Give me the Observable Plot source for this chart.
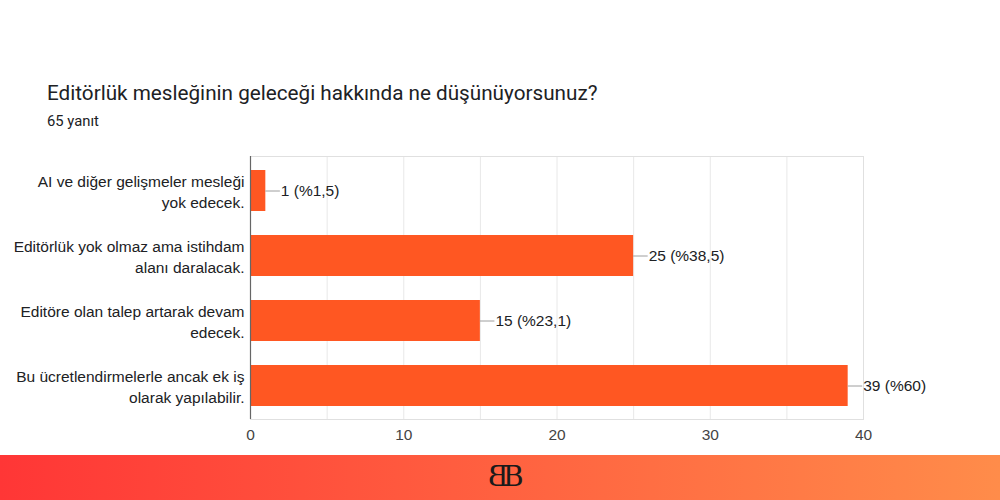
<!DOCTYPE html>
<html>
<head>
<meta charset="utf-8">
<script src="https://cdn.jsdelivr.net/npm/d3@7"></script>
<script src="https://cdn.jsdelivr.net/npm/@observablehq/plot@0.6"></script>
<style>
  html, body { margin: 0; padding: 0; background: #fff; }
  #page { position: relative; width: 1000px; height: 500px; overflow: hidden; background: #fff; }
  #title { position: absolute; left: 47px; top: 81px; font-family: Roboto, "Liberation Sans", sans-serif; font-size: 20.7px; color: #202124; white-space: nowrap; }
  #subtitle { position: absolute; left: 47px; top: 112px; font-family: Roboto, "Liberation Sans", sans-serif; font-size: 14.8px; color: #202124; }
  #chart { position: absolute; left: 0; top: 140px; }
  #footer { position: absolute; left: 0; top: 455px; width: 1000px; height: 45px; background: linear-gradient(to right, #ff3636, #ff8c4a); }
  #logo { position: absolute; left: 503px; top: 6px; font-family: "DejaVu Serif", serif; font-size: 28px; color: #1a1a1a; line-height: 32px; white-space: nowrap; }
  #logo::before { content: "B"; position: absolute; right: 100%; margin-right: -6px; transform: scaleX(-1); }
</style>
</head>
<body>
<div id="page">
  <div id="title">Editörlük mesleğinin geleceği hakkında ne düşünüyorsunuz?</div>
  <div id="subtitle">65 yanıt</div>
  <div id="chart"></div>
  <div id="footer"><div id="logo">B</div></div>
</div>
<script>
const categories = [
  "AI ve diğer gelişmeler mesleği\nyok edecek.",
  "Editörlük yok olmaz ama istihdam\nalanı daralacak.",
  "Editöre olan talep artarak devam\nedecek.",
  "Bu ücretlendirmelerle ancak ek iş\nolarak yapılabilir."
];
const counts = [1, 25, 15, 39];
const percentLabels = ["%1,5", "%38,5", "%23,1", "%60"];
const xTicks = [0, 10, 20, 30, 40];
const gridValues = [0, 5, 10, 15, 20, 25, 30, 35, 40];

const data = categories.map((c, i) => ({cat: c, v: counts[i], label: `${counts[i]} (${percentLabels[i]})`}));

const chart = Plot.plot({
  width: 1000,
  height: 310,
  marginLeft: 250,
  marginRight: 137,
  marginTop: 16,
  marginBottom: 31,
  style: {fontFamily: "'Liberation Sans', Arial, sans-serif", fontSize: "15.5px", color: "#202124", background: "transparent"},
  x: {domain: [0, 40], ticks: xTicks, label: null},
  y: {domain: categories, paddingInner: 0.372, paddingOuter: 0.2, label: null},
  marks: [
    Plot.ruleX(gridValues, {stroke: "#e8e8e8", strokeWidth: 1}),
    Plot.frame({stroke: "#e0e0e0"}),
    Plot.barX(data, {y: "cat", x: "v", fill: "#ff5722"}),
    Plot.ruleY(data, {y: "cat", x1: "v", x2: d => d.v + 0.95, stroke: "#9e9e9e", strokeWidth: 1}),
    Plot.text(data, {y: "cat", x: "v", text: "label", dx: 15, textAnchor: "start", fill: "#202124", fontSize: 15.5}),
    Plot.ruleX([0], {stroke: "#666", strokeWidth: 1.2}),
    Plot.axisX({ticks: xTicks, tickSize: 0, tickPadding: 9, fontSize: 15.5, fill: "#444", label: null}),
    Plot.axisY({tickSize: 0, tickPadding: 6, fontSize: 15.5, fill: "#202124", label: null, lineHeight: 1.3})
  ]
});
document.getElementById("chart").appendChild(chart);
</script>
</body>
</html>
